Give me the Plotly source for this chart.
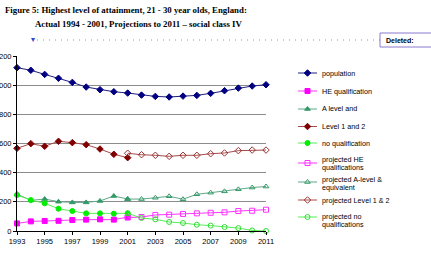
import plotly.graph_objects as go

years_actual = list(range(1993, 2002))
years_proj = list(range(2001, 2012))
years_all = list(range(1993, 2012))

population = [1120, 1102, 1074, 1047, 1019, 987, 969, 955, 946, 932, 923, 919, 925, 930, 944, 962, 980, 994, 1003]
he_actual = [52, 66, 69, 70, 75, 78, 80, 78, 95]
alevel_actual = [254, 210, 219, 201, 196, 196, 206, 240, 219]
level12_actual = [567, 599, 581, 615, 606, 592, 562, 526, 503]
noqual_actual = [247, 212, 190, 153, 137, 121, 121, 119, 121]

he_proj = [92, 96, 110, 112, 117, 121, 125, 128, 137, 139, 146]
alevel_proj = [219, 219, 228, 238, 218, 252, 263, 272, 286, 298, 305]
level12_proj = [533, 523, 519, 512, 519, 519, 530, 535, 551, 555, 555]
noqual_proj = [121, 89, 80, 62, 55, 43, 37, 27, 20, 4, 0]

x_ticks = list(range(1993, 2012, 2))
y_ticks = [0, 200, 400, 600, 800, 1000, 1200]

legend_labels = [["population"], ["HE qualification"], ["A level and"], ["Level 1 and 2"],
                 ["no qualification"], ["projected HE", "qualifications"],
                 ["projected A-level &", "equivalent"], ["projected Level 1 & 2"],
                 ["projected no", "qualifications"]]

W, H = 431, 269
L, R, T, B = 17, 266, 56, 231

def fx(x):
    return x / W

def fy(y):
    return 1 - y / H

fig = go.Figure()

styles = [
    ("#1f1f80", "#000080", "diamond"),
    ("#ff33ff", "#ff00ff", "square"),
    ("#5fa88a", "#339966", "triangle-up"),
    ("#a84a4a", "#800000", "diamond"),
    ("#55ee55", "#00ee00", "circle"),
    ("#ff33ff", "#ff33ff", "square-open"),
    ("#5fa88a", "#339966", "triangle-up-open"),
    ("#a84a4a", "#993333", "diamond-open"),
    ("#55ee55", "#33dd33", "circle-open"),
]

series = [
    (years_all, population), (years_actual, he_actual), (years_actual, alevel_actual),
    (years_actual, level12_actual), (years_actual, noqual_actual),
    (years_proj, he_proj), (years_proj, alevel_proj), (years_proj, level12_proj),
    (years_proj, noqual_proj),
]

for (x, y), (lc, mc, sym), lab in zip(series, styles, legend_labels):
    fig.add_trace(go.Scatter(
        x=x, y=y, name=" ".join(lab), mode="lines+markers", showlegend=False,
        line=dict(color=lc, width=1),
        marker=dict(symbol=sym, color=mc, size=5, line=dict(color=mc, width=1)),
        cliponaxis=False, xaxis="x", yaxis="y",
    ))

# Manual legend (pixel-coordinate overlay axes)
legend_y = [73, 91, 109, 126.5, 143, 163, 182, 200, 217]
legend_text_y = [[73], [91], [109], [126.5], [143], [159.5, 167], [179.5, 187.5], [200], [216.5, 224]]
for (lc, mc, sym), yy, tys, lab in zip(styles, legend_y, legend_text_y, legend_labels):
    fig.add_trace(go.Scatter(
        x=[298, 317], y=[yy, yy], mode="lines", showlegend=False, hoverinfo="skip",
        line=dict(color=lc, width=1), xaxis="x2", yaxis="y2", cliponaxis=False))
    fig.add_trace(go.Scatter(
        x=[307.5], y=[yy], mode="markers", showlegend=False, hoverinfo="skip",
        marker=dict(symbol=sym, color=mc, size=5, line=dict(color=mc, width=1)),
        xaxis="x2", yaxis="y2", cliponaxis=False))
    for ty, t in zip(tys, lab):
        fig.add_annotation(x=fx(320), y=fy(ty), xref="paper", yref="paper",
                           xanchor="left", yanchor="middle", text=t, showarrow=False,
                           font=dict(size=7.2, color="black"))

fig.update_layout(
    width=W, height=H,
    margin=dict(l=0, r=0, t=0, b=0, pad=0),
    paper_bgcolor="white", plot_bgcolor="rgba(0,0,0,0)",
    font=dict(family="Liberation Sans, Arial", size=7.5, color="black"),
    showlegend=False,
    xaxis=dict(domain=[L / W, R / W], range=[1993, 2011], tickvals=x_ticks,
               ticktext=[str(v) for v in x_ticks],
               showgrid=False, showline=True, linecolor="black", linewidth=1,
               ticks="outside", ticklen=3, tickcolor="black", zeroline=False,
               tickfont=dict(size=7.5), automargin=False),
    yaxis=dict(domain=[1 - B / H, 1 - T / H], range=[0, 1200], tickvals=y_ticks,
               ticktext=[str(v) for v in y_ticks],
               showgrid=True, gridcolor="#8c8c8c", gridwidth=1,
               showline=True, linecolor="black", linewidth=1,
               ticks="outside", ticklen=3, tickcolor="black", zeroline=False,
               tickfont=dict(size=7.5), automargin=False),
    xaxis2=dict(domain=[0, 1], range=[0, W], visible=False, fixedrange=True),
    yaxis2=dict(domain=[0, 1], range=[H, 0], visible=False, fixedrange=True),
)

# Title
title_font = dict(family="Liberation Serif, Times New Roman", size=8.8, color="black")
fig.add_annotation(x=fx(3), y=fy(10), xref="paper", yref="paper", xanchor="left", yanchor="middle",
                   text="<b>Figure 5: Highest level of attainment, 21 - 30 year olds, England:</b>",
                   showarrow=False, font=title_font)
fig.add_annotation(x=fx(33), y=fy(24), xref="paper", yref="paper", xanchor="left", yanchor="middle",
                   text="<b>Actual 1994 - 2001, Projections to 2011 \u2013 social class IV</b>",
                   showarrow=False, font=title_font)

# Track-change dotted line and balloon
fig.add_shape(type="line", xref="paper", yref="paper", x0=fx(37), x1=fx(380), y0=fy(40), y1=fy(40),
              line=dict(color="#9090c8", width=1, dash="1px,5px"))
fig.add_annotation(x=fx(33), y=fy(39), xref="paper", yref="paper", xanchor="center", yanchor="middle",
                   text="\u25BE", showarrow=False, font=dict(size=8, color="#3344cc"))
fig.add_shape(type="rect", xref="paper", yref="paper", x0=fx(380), x1=fx(436), y0=fy(33), y1=fy(47),
              line=dict(color="#8a7ad0", width=1), fillcolor="white")
fig.add_annotation(x=fx(384), y=fy(40), xref="paper", yref="paper", xanchor="left", yanchor="middle",
                   text="<b>Deleted:</b>", showarrow=False, font=dict(size=7, color="black"))

fig.write_html("out.html")
